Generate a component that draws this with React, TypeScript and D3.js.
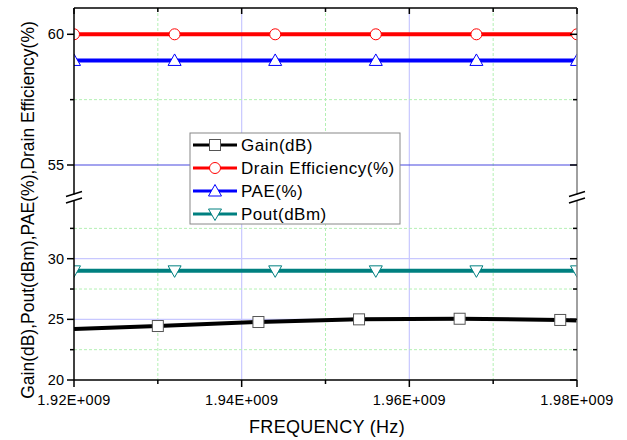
import React from 'react';
import * as d3 from 'd3';

// frequency in GHz (axis labels shown in Hz)
const freqs = [1.92, 1.932, 1.944, 1.956, 1.968, 1.98];
const drainEff = [60, 60, 60, 60, 60, 60];
const pae = [59, 59, 59, 59, 59, 59];
const pout = [29, 29, 29, 29, 29, 29];

const gainFreqs = [1.92, 1.93, 1.942, 1.954, 1.966, 1.978, 1.98];
const gain = [24.2, 24.45, 24.78, 25.0, 25.05, 24.95, 24.9];
const gainMarkerIdx = [1, 2, 3, 4, 5];

const xTicks = [1.92, 1.94, 1.96, 1.98];
const xMinor = [1.93, 1.95, 1.97];
const xTickLabels = ['1.92E+009', '1.94E+009', '1.96E+009', '1.98E+009'];
const upperTicks = [55, 60];
const upperMinor = [57.5];
const lowerTicks = [20, 25, 30];
const lowerMinor = [22.5, 27.5, 32.5];

const legendItems = ['Gain(dB)', 'Drain Efficiency(%)', 'PAE(%)', 'Pout(dBm)'];

const W = 627, H = 440;
const L = 74, R = 577, T = 8, B = 380;
const breakY = 197.5;

const x = d3.scaleLinear().domain([1.92, 1.98]).range([L, R]);
const yUp = d3.scaleLinear().domain([55, 60]).range([165, 34.3]);
const yLo = d3.scaleLinear().domain([20, 30]).range([380, 258.7]);
const y = (v: number) => (v > 45 ? yUp(v) : yLo(v));

const font = 'Liberation Sans, Arial, sans-serif';

function Marker({ kind, cx, cy, color }: { kind: string; cx: number; cy: number; color: string }) {
  if (kind === 'square') return <rect x={cx - 5.5} y={cy - 5.5} width={11} height={11} fill="#fff" stroke="#555" strokeWidth={1} />;
  if (kind === 'circle') return <circle cx={cx} cy={cy} r={5.5} fill="#fff" stroke={color} strokeWidth={1} />;
  if (kind === 'up') return <path d={`M${cx},${cy - 6.5}L${cx + 6.5},${cy + 5}L${cx - 6.5},${cy + 5}Z`} fill="#fff" stroke={color} strokeWidth={1} />;
  return <path d={`M${cx},${cy + 6.5}L${cx + 6.5},${cy - 5}L${cx - 6.5},${cy - 5}Z`} fill="#fff" stroke={color} strokeWidth={1} />;
}

export default function App() {
  const line = d3.line<[number, number]>().x(d => x(d[0])).y(d => y(d[1]));
  const series = [
    { name: 'Drain Efficiency(%)', xs: freqs, ys: drainEff, color: '#ff0000', kind: 'circle', idx: freqs.map((_, i) => i) },
    { name: 'PAE(%)', xs: freqs, ys: pae, color: '#0000ff', kind: 'up', idx: freqs.map((_, i) => i) },
    { name: 'Pout(dBm)', xs: freqs, ys: pout, color: '#008080', kind: 'down', idx: freqs.map((_, i) => i) },
    { name: 'Gain(dB)', xs: gainFreqs, ys: gain, color: '#000000', kind: 'square', idx: gainMarkerIdx },
  ];
  const legendStyle: Record<string, { color: string; kind: string; mc: string }> = {
    'Gain(dB)': { color: '#000', kind: 'square', mc: '#000' },
    'Drain Efficiency(%)': { color: '#ff0000', kind: 'circle', mc: '#ff0000' },
    'PAE(%)': { color: '#0000ff', kind: 'up', mc: '#0000ff' },
    'Pout(dBm)': { color: '#008080', kind: 'down', mc: '#008080' },
  };
  const allMajorY = [...upperTicks, ...lowerTicks];
  const allMinorY = [...upperMinor, ...lowerMinor];
  return (
    <svg width={W} height={H} style={{ position: 'absolute', left: 0, top: 0, background: '#fff' }} fontFamily={font}>
      <defs>
        <clipPath id="plot"><rect x={L} y={T} width={R - L} height={B - T} /></clipPath>
      </defs>
      {/* grid */}
      {xMinor.map(v => <line key={'gx' + v} x1={x(v)} x2={x(v)} y1={T} y2={B} stroke="#b4f0b4" strokeWidth={1} strokeDasharray="3,2" />)}
      {xTicks.slice(1, -1).map(v => <line key={'Gx' + v} x1={x(v)} x2={x(v)} y1={T} y2={B} stroke="#c8c8ff" strokeWidth={1.2} />)}
      {allMinorY.map(v => <line key={'gy' + v} x1={L} x2={R} y1={y(v)} y2={y(v)} stroke="#b4f0b4" strokeWidth={1} strokeDasharray="3,2" />)}
      {allMajorY.filter(v => v !== 20).map(v => (
        <line key={'Gy' + v} x1={L} x2={R} y1={y(v)} y2={y(v)} stroke={v === 55 ? '#4848e0' : '#c8c8ff'} strokeWidth={1.2} />
      ))}
      {/* series */}
      <g clipPath="url(#plot)">
        {series.map(s => (
          <path key={s.name} d={line(s.xs.map((f, i) => [f, s.ys[i]] as [number, number])) || ''} fill="none" stroke={s.color} strokeWidth={4} />
        ))}
        {series.map(s => s.idx.map(i => (
          <Marker key={s.name + i} kind={s.kind} cx={x(s.xs[i])} cy={y(s.ys[i])} color={s.color} />
        )))}
      </g>
      {/* axes */}
      <line x1={L} x2={R} y1={T} y2={T} stroke="#000" strokeWidth={1.5} />
      <line x1={L} x2={R} y1={B} y2={B} stroke="#000" strokeWidth={1.5} />
      <line x1={L} x2={L} y1={T} y2={B} stroke="#000" strokeWidth={1.5} />
      <line x1={R} x2={R} y1={T} y2={B} stroke="#808080" strokeWidth={1.5} />
      {xTicks.map((v, i) => (
        <g key={'xt' + v}>
          <line x1={x(v)} x2={x(v)} y1={B} y2={B + 7} stroke="#000" strokeWidth={1.5} />
          <line x1={x(v)} x2={x(v)} y1={T} y2={T + 6} stroke="#000" strokeWidth={1.5} />
          <text x={x(v)} y={B + 25} textAnchor="middle" fontSize={14.5} letterSpacing={0.3} fill="#000">{xTickLabels[i]}</text>
        </g>
      ))}
      {xMinor.map(v => (
        <g key={'xm' + v}>
          <line x1={x(v)} x2={x(v)} y1={B} y2={B + 4} stroke="#000" strokeWidth={1.5} />
          <line x1={x(v)} x2={x(v)} y1={T} y2={T + 4} stroke="#000" strokeWidth={1.5} />
        </g>
      ))}
      {allMajorY.map(v => (
        <g key={'yt' + v}>
          <line x1={L - 7} x2={L} y1={y(v)} y2={y(v)} stroke="#000" strokeWidth={1.5} />
          <line x1={R - 7} x2={R} y1={y(v)} y2={y(v)} stroke="#000" strokeWidth={1.5} />
          <text x={L - 10} y={y(v) + 5} textAnchor="end" fontSize={14.5} fill="#000">{v}</text>
        </g>
      ))}
      {allMinorY.map(v => (
        <g key={'ym' + v}>
          <line x1={L - 4} x2={L} y1={y(v)} y2={y(v)} stroke="#000" strokeWidth={1.5} />
          <line x1={R - 4} x2={R} y1={y(v)} y2={y(v)} stroke="#000" strokeWidth={1.5} />
        </g>
      ))}
      {/* axis breaks */}
      {[L, R].map(ax => (
        <g key={'br' + ax}>
          <rect x={ax - 2} y={breakY - 3} width={4} height={6} fill="#fff" />
          <line x1={ax - 8} x2={ax + 8} y1={breakY - 1} y2={breakY - 6} stroke="#000" strokeWidth={1.5} />
          <line x1={ax - 8} x2={ax + 8} y1={breakY + 5.5} y2={breakY + 0.5} stroke="#000" strokeWidth={1.5} />
        </g>
      ))}
      {/* legend */}
      <rect x={190} y={133} width={210} height={91} fill="#fff" stroke="#888" strokeWidth={1} />
      {legendItems.map((name, i) => {
        const st = legendStyle[name];
        const ly = 145 + i * 23;
        return (
          <g key={'lg' + name}>
            <line x1={193} x2={237} y1={ly} y2={ly} stroke={st.color} strokeWidth={3} />
            <Marker kind={st.kind} cx={215} cy={ly} color={st.mc} />
            <text x={241} y={ly + 6} fontSize={17} letterSpacing={0.5} fill="#000">{name}</text>
          </g>
        );
      })}
      {/* axis titles */}
      <text x={327} y={433} textAnchor="middle" fontSize={18} letterSpacing={0.3} fill="#000">FREQUENCY (Hz)</text>
      <text transform={`translate(34,210) rotate(-90)`} textAnchor="middle" fontSize={17.5} fill="#000">Gain(dB),Pout(dBm),PAE(%),Drain Efficiency(%)</text>
    </svg>
  );
}
